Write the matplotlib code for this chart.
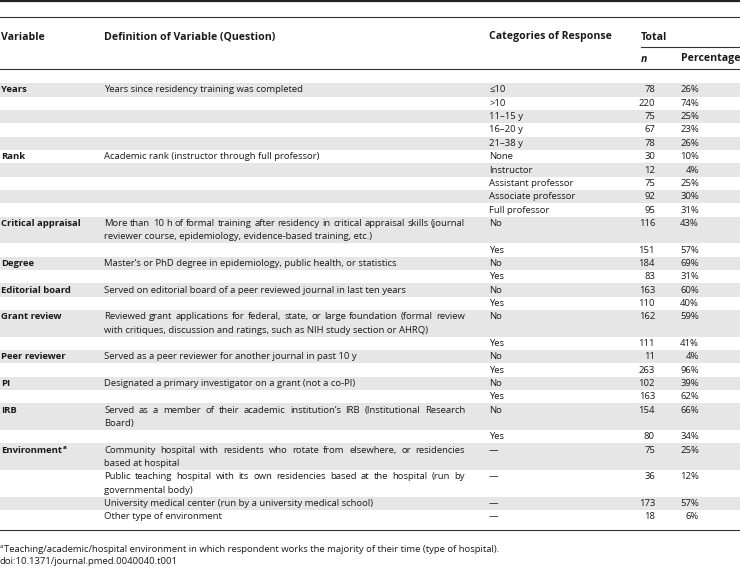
import matplotlib.pyplot as plt

plt.rcParams['font.family'] = ['Open Sans', 'DejaVu Sans']

variables = ["Years", "", "", "", "", "Rank", "", "", "", "", "Critical appraisal", "",
             "Degree", "", "Editorial board", "", "Grant review", "", "Peer reviewer", "",
             "PI", "", "IRB", "", "Environment", "", "", ""]
definitions = [
    ["Years since residency training was completed"], [], [], [], [],
    ["Academic rank (instructor through full professor)"], [], [], [], [],
    ["More than 10 h of formal training after residency in critical appraisal skills (journal",
     "reviewer course, epidemiology, evidence-based training, etc.)"], [],
    ["Master\u2019s or PhD degree in epidemiology, public health, or statistics"], [],
    ["Served on editorial board of a peer reviewed journal in last ten years"], [],
    ["Reviewed grant applications for federal, state, or large foundation (formal review",
     "with critiques, discussion and ratings, such as NIH study section or AHRQ)"], [],
    ["Served as a peer reviewer for another journal in past 10 y"], [],
    ["Designated a primary investigator on a grant (not a co-PI)"], [],
    ["Served as a member of their academic institution\u2019s IRB (Institutional Research",
     "Board)"], [],
    ["Community hospital with residents who rotate from elsewhere, or residencies",
     "based at hospital"],
    ["Public teaching hospital with its own residencies based at the hospital (run by",
     "governmental body)"],
    ["University medical center (run by a university medical school)"],
    ["Other type of environment"],
]
categories = ["\u226410", ">10", "11\u201315 y", "16\u201320 y", "21\u201338 y",
              "None", "Instructor", "Assistant professor", "Associate professor", "Full professor",
              "No", "Yes", "No", "Yes", "No", "Yes", "No", "Yes", "No", "Yes", "No", "Yes",
              "No", "Yes", "\u2014", "\u2014", "\u2014", "\u2014"]
n_values = [78, 220, 75, 67, 78, 30, 12, 75, 92, 95, 116, 151, 184, 83, 163, 110,
            162, 111, 11, 263, 102, 163, 154, 80, 75, 36, 173, 18]
pct_values = [26, 74, 25, 23, 26, 10, 4, 25, 30, 31, 43, 57, 69, 31, 60, 40,
              59, 41, 4, 96, 39, 62, 66, 34, 25, 12, 57, 6]
footnote = "Teaching/academic/hospital environment in which respondent works the majority of their time (type of hospital)."
doi = "doi:10.1371/journal.pmed.0040040.t001"

W, H = 740, 572
fig = plt.figure(figsize=(W / 100, H / 100), dpi=100)
ax = fig.add_axes([0, 0, 1, 1])
ax.set_xlim(0, W)
ax.set_ylim(H, 0)
ax.axis('off')
r = fig.canvas.get_renderer()

fs = 6.8
hfs = 7.6
col = '#1a1a1a'
kw = dict(fontsize=fs, color=col, va='center')
pitch = 13.34
top = 83.3
x_var, x_def, x_cat, x_n, x_pct = 1, 104, 489, 655, 699
def_width = 361


def text_w(s, **k):
    t = ax.text(0, 0, s, **k)
    w = t.get_window_extent(r).width
    t.remove()
    return w


def justified(x, y, line, width):
    words = line.split(" ")
    widths = [text_w(w, fontsize=fs) for w in words]
    gap = (width - sum(widths)) / (len(words) - 1)
    pos = x
    for w, wd in zip(words, widths):
        ax.text(pos, y, w, **kw)
        pos += wd + gap


# row bands
y = top
for i in range(len(categories)):
    nl = max(1, len(definitions[i]))
    h = nl * pitch
    if i % 2 == 0:
        ax.barh(y, W, height=h, left=0, align='edge', color='#e6e6e6', lw=0, zorder=0)
    yc = y + pitch / 2
    if variables[i]:
        t = ax.text(x_var, yc, variables[i], fontweight='bold', **kw)
        if variables[i] == "Environment":
            wv = t.get_window_extent(r).width
            ax.text(x_var + wv + 0.5, yc - 3, "a", fontsize=4.5, fontweight='bold', color=col, va='center')
    lines = definitions[i]
    for j, ln in enumerate(lines):
        if j < len(lines) - 1:
            justified(x_def, yc + j * pitch, ln, def_width)
        else:
            ax.text(x_def, yc + j * pitch, ln, **kw)
    ax.text(x_cat, yc, categories[i], **kw)
    ax.text(x_n, yc, str(n_values[i]), ha='right', **kw)
    ax.text(x_pct, yc, "%d%%" % pct_values[i], ha='right', **kw)
    y += h

# header
hk = dict(fontsize=hfs, color=col, va='center', fontweight='bold')
ax.text(x_var, 37, "Variable", **hk)
ax.text(x_def, 37, "Definition of Variable (Question)", **hk)
ax.text(x_cat, 37, "Categories of Response", **hk)
ax.text(641, 37, "Total", **hk)
ax.text(641, 59, "n", fontstyle='italic', **hk)
ax.text(681, 59, "Percentage", **hk)

# rules
ax.plot([0, W], [1, 1], color='#222222', lw=1.6, solid_capstyle='butt')
ax.plot([0, W], [17, 17], color='#333333', lw=0.8)
ax.plot([641, W], [47, 47], color='#333333', lw=0.8)
ax.plot([0, W], [69, 69], color='#333333', lw=0.8)
ax.plot([0, W], [530, 530], color='#333333', lw=0.8)

# footnotes
ax.text(0, 546.5, "a", fontsize=4.5, color=col, va='center')
ax.text(4, 549, footnote, fontsize=fs, color=col, va='center')
ax.text(0, 562, doi, fontsize=fs, color=col, va='center')

fig.savefig("out.png", dpi=100)
